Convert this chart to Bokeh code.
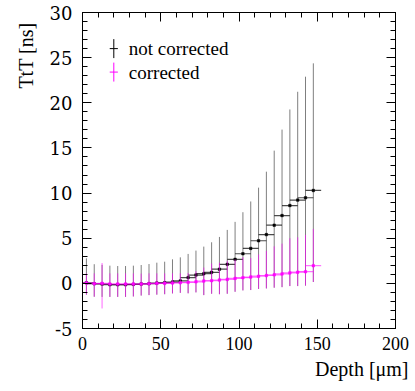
import numpy as np
from bokeh.plotting import figure
from bokeh.models import Range1d, LinearAxis, FixedTicker, Label, ColumnDataSource, Title
from bokeh.embed import file_html
from bokeh.resources import INLINE

# ---------------- data ----------------
depth = [2.5, 7.5, 12.5, 17.5, 22.5, 27.5, 32.5, 37.5, 42.5, 47.5,
         52.5, 57.5, 62.5, 67.5, 72.5, 77.5, 82.5, 87.5, 92.5, 97.5,
         102.5, 107.5, 112.5, 117.5, 122.5, 127.5, 132.5, 137.5, 142.5, 147.5]
depth_halfwidth = 5.0

# not corrected
nc_val = [0.07, -0.04, -0.07, -0.15, -0.15, -0.15, -0.11, -0.07, -0.04, 0.03,
          0.07, 0.14, 0.27, 0.64, 0.92, 1.07, 1.22, 1.57, 2.11, 2.66,
          3.28, 3.87, 4.72, 5.40, 6.44, 7.51, 8.62, 9.22, 9.48, 10.29]
nc_hi = [2.77, 2.12, 2.05, 1.96, 1.92, 1.92, 1.96, 2.03, 2.14, 2.29,
         2.40, 2.66, 2.88, 3.26, 3.63, 4.07, 4.55, 5.14, 5.92, 6.81,
         7.88, 9.07, 10.60, 12.37, 14.70, 17.03, 19.26, 21.22, 22.89, 24.37]
nc_lo = [-1.25, -1.48, -1.50, -1.50, -1.50, -1.50, -1.45, -1.35, -1.30, -1.25,
         -1.20, -1.11, -1.05, -1.10, -1.00, -1.30, -1.15, -1.20, -1.15, -0.93,
         -0.78, -0.74, -0.62, -0.56, -0.48, -0.42, -0.30, -0.30, -0.25, 0.15]

# corrected
c_val = [0.05, -0.04, 0.00, -0.07, -0.07, -0.07, -0.07, -0.07, -0.03, 0.00,
         0.00, 0.04, 0.07, 0.11, 0.17, 0.26, 0.30, 0.37, 0.44, 0.55,
         0.63, 0.70, 0.79, 0.87, 0.94, 1.05, 1.16, 1.24, 1.29, 1.96]
c_hi = [1.11, 1.11, 2.25, 1.11, 1.11, 1.11, 1.11, 1.08, 1.11, 1.11,
        1.11, 1.11, 1.11, 1.15, 1.35, 1.75, 2.20, 2.30, 2.50, 2.65,
        2.90, 2.80, 3.20, 3.60, 4.10, 4.40, 5.00, 5.10, 5.37, 6.03]
c_lo = [-1.25, -1.48, -2.78, -1.50, -1.50, -1.50, -1.45, -1.35, -1.30, -1.25,
        -1.20, -1.11, -1.05, -1.10, -1.00, -1.30, -1.15, -1.20, -1.15, -0.93,
        -0.78, -0.74, -0.62, -0.56, -0.48, -0.42, -0.30, -0.30, -0.25, 0.15]

series_names = ["not corrected", "corrected"]
x_ticks = [0, 50, 100, 150, 200]
x_tick_labels = ["0", "50", "100", "150", "200"]
y_ticks = [-5, 0, 5, 10, 15, 20, 25, 30]
y_tick_labels = ["-5", "0", "5", "10", "15", "20", "25", "30"]
x_title = "Depth [\u03bcm]"
y_title = "TtT [ns]"

FONT = "serif"
X_TICK_FONT = "Liberation Serif, serif"
Y_TICK_FONT = "DejaVu Serif, serif"
MAGENTA = "#ff00ff"

p = figure(width=415, height=391,
           x_range=Range1d(0, 200), y_range=Range1d(-5, 30),
           output_backend="svg", toolbar_location=None,
           min_border_left=82, min_border_right=20,
           min_border_top=12, min_border_bottom=63)
p.grid.visible = False
p.outline_line_color = "black"
p.outline_line_width = 1
p.background_fill_color = "white"
p.border_fill_color = "white"

p.add_layout(LinearAxis(), "above")
p.add_layout(LinearAxis(), "right")


def style_axis(ax, ticks, minor, labels, show, font):
    ax.ticker = FixedTicker(ticks=ticks, minor_ticks=minor)
    ax.major_tick_in = 9
    ax.major_tick_out = 0
    ax.minor_tick_in = 5
    ax.minor_tick_out = 0
    ax.axis_line_color = "black"
    ax.major_tick_line_color = "black"
    ax.minor_tick_line_color = "black"
    ax.major_label_text_font = font
    ax.major_label_text_font_size = "18px"
    ax.major_label_text_color = "black"
    if show:
        ax.major_label_overrides = {t: l for t, l in zip(ticks, labels)}
    else:
        ax.major_label_overrides = {t: "" for t in ticks}
        ax.major_label_text_font_size = "0px"
        ax.major_label_standoff = 0
    ax.axis_label = None


x_minor = list(range(0, 201, 10))
y_minor = list(range(-5, 31, 1))
style_axis(p.below[0], x_ticks, x_minor, x_tick_labels, True, X_TICK_FONT)
style_axis(p.above[0], x_ticks, x_minor, x_tick_labels, False, X_TICK_FONT)
style_axis(p.left[0], y_ticks, y_minor, y_tick_labels, True, Y_TICK_FONT)
style_axis(p.right[0], y_ticks, y_minor, y_tick_labels, False, Y_TICK_FONT)
p.below[0].major_label_standoff = 8
p.left[0].major_label_standoff = 10

d = np.array(depth)


def draw_series(val, lo, hi, color, valpha, halpha):
    src = ColumnDataSource(dict(x=d, x0=d - depth_halfwidth, x1=d + depth_halfwidth,
                                y=np.array(val), lo=np.array(lo), hi=np.array(hi)))
    p.segment(x0="x", y0="lo", x1="x", y1="hi", source=src,
              line_color=color, line_alpha=valpha, line_width=1)
    p.segment(x0="x0", y0="y", x1="x1", y1="y", source=src,
              line_color=color, line_alpha=halpha, line_width=1.2)
    p.scatter(x="x", y="y", source=src, marker="square", size=2.5,
              fill_color=color, line_color=color, line_width=0.5)


draw_series(nc_val, nc_lo, nc_hi, "black", 0.5, 0.7)
draw_series(c_val, c_lo, c_hi, MAGENTA, 0.6, 0.55)

# legend
leg_x = 20
leg_y = [26.0, 23.4]
leg_colors = ["black", MAGENTA]
for name, yy, col in zip(series_names, leg_y, leg_colors):
    p.segment(x0=[leg_x], y0=[yy - 1.05], x1=[leg_x], y1=[yy + 1.05],
              line_color=col, line_width=1)
    p.segment(x0=[leg_x - 2.6], y0=[yy], x1=[leg_x + 2.6], y1=[yy],
              line_color=col, line_width=1)
    p.add_layout(Label(x=leg_x, y=yy, x_offset=15, text=name,
                       text_font=FONT, text_font_size="19px",
                       text_baseline="middle", text_color="black"))

# axis titles
p.add_layout(Title(text=x_title, align="right", offset=-13, standoff=7,
                   text_font=FONT, text_font_size="20px",
                   text_font_style="normal", text_color="black"), "below")
p.add_layout(Title(text=y_title, align="right", offset=10, standoff=20,
                   text_font=FONT, text_font_size="20px",
                   text_font_style="normal", text_color="black"), "left")

open("out.html", "w").write(file_html(p, INLINE))
